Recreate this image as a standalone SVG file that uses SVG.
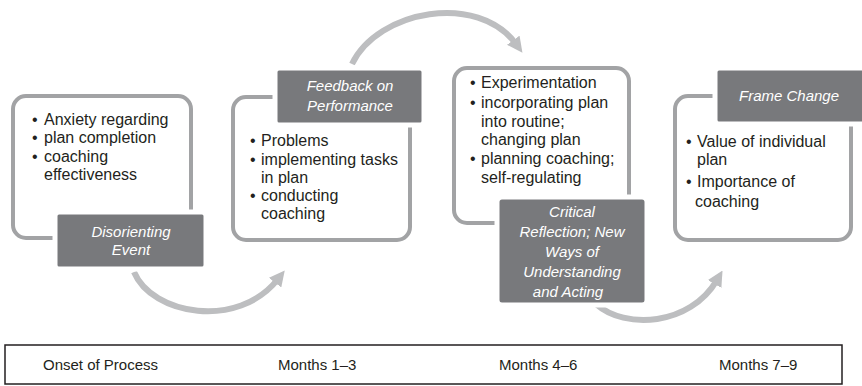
<svg xmlns="http://www.w3.org/2000/svg" width="862" height="386" viewBox="0 0 862 386">
<style>
.frame{fill:#fff;stroke:#a2a3a5;stroke-width:4}
.label{fill:#78797c;stroke:#fff;stroke-width:5}
.lt{font-family:"Liberation Sans",Arial,sans-serif;font-size:15px;font-style:italic;fill:#fff;text-anchor:middle}
.bt{font-family:"Liberation Sans",Arial,sans-serif;font-size:16px;fill:#231f20}
.tt{font-family:"Liberation Sans",Arial,sans-serif;font-size:15px;fill:#231f20}
.arc{fill:none;stroke:#bdbec0;stroke-width:6}
</style>
<defs>
<marker id="ah" viewBox="0 0 10 10" refX="3" refY="5" markerWidth="2.6" markerHeight="2.6" orient="auto" markerUnits="strokeWidth">
<path d="M0,0 L10,5 L0,10 z" fill="#bdbec0"/>
</marker>
</defs>
<g id="connectors">
<path class="arc" d="M134,272 C152,315 238,330 278,279" marker-end="url(#ah)"/>
<path class="arc" d="M352,64 C378,10 478,-8 516,44" marker-end="url(#ah)"/>
<path class="arc" d="M596,304 C625,330 690,326 717,280" marker-end="url(#ah)"/>
</g>
<g id="node1">
<rect class="frame" x="13" y="96" width="178" height="142" rx="13"/>
<text class="bt"><tspan x="32" y="125">•</tspan><tspan x="44" y="125">Anxiety regarding</tspan><tspan x="32" y="143">•</tspan><tspan x="44" y="143">plan completion</tspan><tspan x="32" y="162">•</tspan><tspan x="44" y="162">coaching</tspan><tspan x="44" y="180">effectiveness</tspan></text>
<rect class="label" x="55" y="212" width="151" height="57" rx="4"/>
<text class="lt"><tspan x="131" y="237">Disorienting</tspan><tspan x="131" y="255">Event</tspan></text>
</g>
<g id="node2">
<rect class="frame" x="233" y="97" width="177" height="143" rx="13"/>
<text class="bt"><tspan x="250" y="146">•</tspan><tspan x="261" y="146">Problems</tspan><tspan x="250" y="165">•</tspan><tspan x="261" y="165">implementing tasks</tspan><tspan x="261" y="183">in plan</tspan><tspan x="250" y="201">•</tspan><tspan x="261" y="201">conducting</tspan><tspan x="261" y="219">coaching</tspan></text>
<rect class="label" x="275" y="68" width="149" height="57" rx="4"/>
<text class="lt"><tspan x="350" y="91">Feedback on</tspan><tspan x="350" y="111">Performance</tspan></text>
</g>
<g id="node3">
<rect class="frame" x="454" y="68" width="175" height="155" rx="13"/>
<text class="bt"><tspan x="470" y="88">•</tspan><tspan x="481" y="88">Experimentation</tspan><tspan x="470" y="108">•</tspan><tspan x="481" y="108">incorporating plan</tspan><tspan x="481" y="127">into routine;</tspan><tspan x="481" y="145">changing plan</tspan><tspan x="470" y="164">•</tspan><tspan x="481" y="164">planning coaching;</tspan><tspan x="481" y="183">self-regulating</tspan></text>
<rect class="label" x="497" y="197" width="150" height="108" rx="5"/>
<text class="lt"><tspan x="572" y="217">Critical</tspan><tspan x="572" y="237">Reflection; New</tspan><tspan x="572" y="257">Ways of</tspan><tspan x="572" y="277">Understanding</tspan><tspan x="568" y="297">and Acting</tspan></text>
</g>
<g id="node4">
<rect class="frame" x="675" y="96" width="176" height="144" rx="13"/>
<text class="bt"><tspan x="686" y="147">•</tspan><tspan x="697" y="147">Value of individual</tspan><tspan x="697" y="165">plan</tspan><tspan x="686" y="187">•</tspan><tspan x="697" y="187">Importance of</tspan><tspan x="695" y="207">coaching</tspan></text>
<rect class="label" x="715" y="68" width="152" height="56" rx="4"/>
<text class="lt"><tspan x="789" y="101">Frame Change</tspan></text>
</g>
<g id="timeline">
<rect x="5" y="345" width="837" height="39" fill="#fff" stroke="#231f20" stroke-width="1.5"/>
<text class="tt" x="43" y="370">Onset of Process</text>
<text class="tt" x="278" y="370">Months 1–3</text>
<text class="tt" x="499" y="370">Months 4–6</text>
<text class="tt" x="719" y="370">Months 7–9</text>
</g>
</svg>
